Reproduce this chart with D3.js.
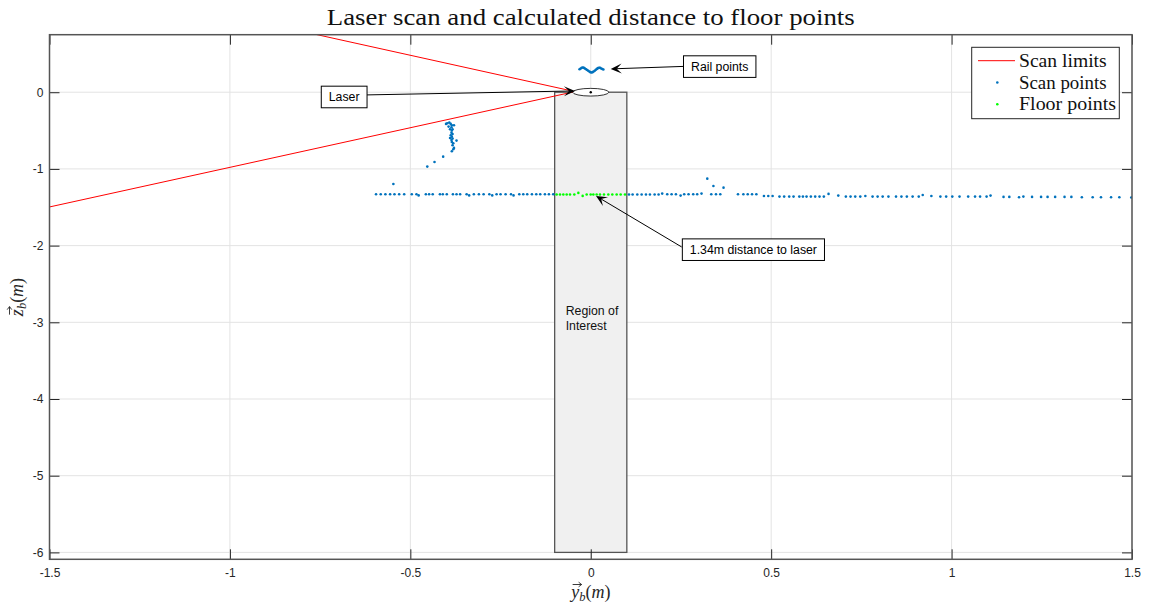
<!DOCTYPE html>
<html>
<head>
<meta charset="utf-8">
<script src="https://cdn.jsdelivr.net/npm/d3@7"></script>
<style>
  html, body { margin: 0; padding: 0; background: #fff; }
  svg { display: block; }
</style>
</head>
<body>
<svg id="chart" width="1150" height="608"></svg>
<script>
// ---- data -------------------------------------------------------------
const xTicks = [-1.5, -1, -0.5, 0, 0.5, 1, 1.5];
const xTickLabels = ["-1.5", "-1", "-0.5", "0", "0.5", "1", "1.5"];
const yTicks = [-6, -5, -4, -3, -2, -1, 0];
const yTickLabels = ["-6", "-5", "-4", "-3", "-2", "-1", "0"];

// scan limit rays from the laser origin
const scanLimitUpper = [[-0.044, 0.008], [-0.76, 0.752]];
const scanLimitLower = [[-0.044, 0.008], [-1.5, -1.496]];

// laser scan points (y_b, z_b)
const railPoints = [
  [-0.031, 0.300], [-0.028, 0.310], [-0.025, 0.318], [-0.022, 0.322], [-0.019, 0.318],
  [-0.016, 0.310], [-0.013, 0.300], [-0.010, 0.290], [-0.007, 0.280], [-0.004, 0.270],
  [-0.001, 0.262], [0.002, 0.258], [0.005, 0.262], [0.008, 0.270], [0.011, 0.280],
  [0.014, 0.292], [0.017, 0.304], [0.020, 0.314], [0.023, 0.320], [0.026, 0.318],
  [0.029, 0.310], [0.032, 0.302], [0.035, 0.296]
];
const wallPoints = [
  [-0.3975, -0.405], [-0.392, -0.396], [-0.388, -0.413], [-0.401, -0.413], [-0.385, -0.431],
  [-0.379, -0.431], [-0.394, -0.448], [-0.386, -0.457], [-0.390, -0.483], [-0.383, -0.483],
  [-0.385, -0.500], [-0.386, -0.527], [-0.383, -0.544], [-0.388, -0.561], [-0.385, -0.579],
  [-0.390, -0.596], [-0.383, -0.605], [-0.386, -0.622], [-0.385, -0.648], [-0.381, -0.666],
  [-0.383, -0.692], [-0.372, -0.631], [-0.379, -0.726], [-0.381, -0.744], [-0.385, -0.770],
  [-0.409, -0.840], [-0.433, -0.909], [-0.453, -0.970],
  [-0.547, -1.196], [0.323, -1.127], [0.340, -1.222], [0.368, -1.244]
];
const groundLeft = [
  [-0.595, -1.331], [-0.582, -1.331], [-0.569, -1.331], [-0.556, -1.331], [-0.544, -1.331],
  [-0.531, -1.331], [-0.517, -1.331], [-0.496, -1.331], [-0.483, -1.331], [-0.477, -1.345],
  [-0.457, -1.331], [-0.448, -1.331], [-0.438, -1.331], [-0.418, -1.331], [-0.410, -1.331],
  [-0.399, -1.331], [-0.382, -1.331], [-0.372, -1.331], [-0.362, -1.331], [-0.344, -1.331],
  [-0.337, -1.345], [-0.324, -1.331], [-0.310, -1.331], [-0.297, -1.331], [-0.281, -1.331],
  [-0.273, -1.345], [-0.261, -1.331], [-0.250, -1.331], [-0.236, -1.331], [-0.221, -1.331],
  [-0.214, -1.345], [-0.198, -1.331], [-0.187, -1.331], [-0.176, -1.331], [-0.163, -1.331],
  [-0.151, -1.331], [-0.140, -1.331], [-0.127, -1.331], [-0.116, -1.331], [-0.104, -1.331]
];
const groundRight = [
  [0.106, -1.333], [0.116, -1.333], [0.129, -1.333], [0.141, -1.333], [0.153, -1.333],
  [0.164, -1.333], [0.177, -1.333], [0.188, -1.333], [0.198, -1.322], [0.212, -1.331],
  [0.224, -1.331], [0.236, -1.331], [0.249, -1.348], [0.259, -1.331], [0.271, -1.331],
  [0.284, -1.331], [0.295, -1.331], [0.307, -1.322], [0.334, -1.331], [0.347, -1.331],
  [0.359, -1.331], [0.408, -1.331], [0.423, -1.331], [0.435, -1.331], [0.447, -1.331],
  [0.459, -1.331], [0.480, -1.353], [0.492, -1.353], [0.504, -1.353], [0.523, -1.361],
  [0.536, -1.361], [0.550, -1.361], [0.562, -1.361], [0.578, -1.361], [0.588, -1.361],
  [0.598, -1.361], [0.610, -1.361], [0.622, -1.361], [0.634, -1.361], [0.646, -1.361],
  [0.659, -1.326], [0.686, -1.348], [0.707, -1.361], [0.720, -1.361], [0.733, -1.361],
  [0.747, -1.361], [0.761, -1.353], [0.781, -1.361], [0.795, -1.361], [0.809, -1.361],
  [0.825, -1.361], [0.846, -1.361], [0.861, -1.361], [0.876, -1.361], [0.892, -1.361],
  [0.909, -1.361], [0.920, -1.340], [0.944, -1.353], [0.969, -1.361], [0.985, -1.361],
  [1.002, -1.361], [1.022, -1.361], [1.046, -1.361], [1.065, -1.361], [1.079, -1.361],
  [1.097, -1.361], [1.108, -1.348], [1.144, -1.365], [1.160, -1.365], [1.187, -1.370],
  [1.199, -1.361], [1.223, -1.365], [1.248, -1.365], [1.266, -1.365], [1.287, -1.365],
  [1.313, -1.365], [1.332, -1.365], [1.361, -1.370], [1.391, -1.370], [1.414, -1.370],
  [1.442, -1.370], [1.465, -1.370], [1.498, -1.372]
];
// points inside the region of interest, classified as floor
const floorPoints = [
  [-0.0945, -1.333], [-0.0852, -1.333], [-0.0760, -1.333], [-0.0667, -1.333], [-0.0575, -1.333],
  [-0.0455, -1.333], [-0.0344, -1.313], [-0.0224, -1.352], [-0.0113, -1.333], [-0.0002, -1.333],
  [0.0072, -1.333], [0.0164, -1.333], [0.0256, -1.333], [0.0367, -1.333], [0.0487, -1.333],
  [0.0598, -1.333], [0.0718, -1.333], [0.0829, -1.333], [0.0949, -1.333]
];

// region of interest and laser marker
const roiBounds = { x0: -0.1, x1: 0.1, y0: -6, y1: 0 };
const laserCenter = [0, 0];
const laserRadius = 0.05;

const legendLabels = ["Scan limits", "Scan points", "Floor points"];
const annotationLabels = ["Laser", "Rail points", "1.34m distance to laser"];
const roiLabel = ["Region of", "Interest"];
const titleText = "Laser scan and calculated distance to floor points";

// ---- layout -----------------------------------------------------------
const plot = { left: 49.5, right: 1132, top: 34.7, bottom: 559.3 };
const BLUE = "#0072BD", GREEN = "#00FF00", RED = "#FF0000";

const x = d3.scaleLinear().domain([-1.5, 1.5]).range([plot.left, plot.right]);
const y = d3.scaleLinear().domain([-6.09, 0.75]).range([plot.bottom, plot.top]);

const svg = d3.select("#chart");
const SANS = "'Liberation Sans', Arial, Helvetica, sans-serif";
const SERIF = "'Liberation Serif', 'DejaVu Serif', serif";

svg.append("defs").append("clipPath").attr("id", "clip")
  .append("rect")
  .attr("x", plot.left).attr("y", plot.top)
  .attr("width", plot.right - plot.left).attr("height", plot.bottom - plot.top);

// grid
const grid = svg.append("g").attr("class", "grid");
grid.selectAll("line.gx").data(xTicks).join("line")
  .attr("x1", d => x(d)).attr("x2", d => x(d))
  .attr("y1", plot.top).attr("y2", plot.bottom)
  .attr("stroke", "#e3e3e3").attr("stroke-width", 1);
grid.selectAll("line.gy").data(yTicks).join("line")
  .attr("y1", d => y(d)).attr("y2", d => y(d))
  .attr("x1", plot.left).attr("x2", plot.right)
  .attr("stroke", "#e3e3e3").attr("stroke-width", 1);

const inner = svg.append("g").attr("clip-path", "url(#clip)");

// region of interest rectangle
inner.append("rect")
  .attr("x", x(roiBounds.x0)).attr("y", y(roiBounds.y1))
  .attr("width", x(roiBounds.x1) - x(roiBounds.x0))
  .attr("height", y(roiBounds.y0) - y(roiBounds.y1))
  .attr("fill", "#f0f0f0").attr("stroke", "#555").attr("stroke-width", 1.3);

inner.append("text")
  .attr("x", x(roiBounds.x0) + 11).attr("y", y(-2.9))
  .attr("font-family", SANS).attr("font-size", 12.3).attr("fill", "#111")
  .selectAll("tspan").data(roiLabel).join("tspan")
  .attr("x", x(roiBounds.x0) + 11).attr("dy", (d, i) => i === 0 ? 0 : 15.5)
  .text(d => d);

// scan limit rays
const line = d3.line().x(d => x(d[0])).y(d => y(d[1]));
[scanLimitUpper, scanLimitLower].forEach(seg => {
  inner.append("path").attr("d", line(seg))
    .attr("fill", "none").attr("stroke", RED).attr("stroke-width", 1);
});

// scan points
const scanPoints = railPoints.concat(wallPoints, groundLeft, groundRight);
inner.append("g").selectAll("circle").data(scanPoints).join("circle")
  .attr("cx", d => x(d[0])).attr("cy", d => y(d[1])).attr("r", 1.3)
  .attr("fill", BLUE);
inner.append("g").selectAll("circle").data(floorPoints).join("circle")
  .attr("cx", d => x(d[0])).attr("cy", d => y(d[1])).attr("r", 1.3)
  .attr("fill", GREEN);

// laser marker
inner.append("ellipse")
  .attr("cx", x(laserCenter[0])).attr("cy", y(laserCenter[1]))
  .attr("rx", x(laserRadius) - x(0)).attr("ry", y(0) - y(laserRadius))
  .attr("fill", "#fff").attr("stroke", "#000").attr("stroke-width", 0.8);
inner.append("circle")
  .attr("cx", x(laserCenter[0])).attr("cy", y(laserCenter[1])).attr("r", 1.2)
  .attr("fill", "#000");

// axes (inward ticks on all four sides)
const tick = 10;
const axB = d3.axisBottom(x).tickValues(xTicks).tickFormat((d, i) => xTickLabels[i])
  .tickSizeInner(-tick).tickSizeOuter(0).tickPadding(9);
const axL = d3.axisLeft(y).tickValues(yTicks).tickFormat((d, i) => yTickLabels[i])
  .tickSizeInner(-tick).tickSizeOuter(0).tickPadding(6);
const axT = d3.axisTop(x).tickValues(xTicks).tickFormat("").tickSizeInner(-tick).tickSizeOuter(0);
const axR = d3.axisRight(y).tickValues(yTicks).tickFormat("").tickSizeInner(-tick).tickSizeOuter(0);

function styleAxis(g) {
  g.select(".domain").remove();
  g.selectAll(".tick line").attr("stroke", "#262626").attr("stroke-width", 1);
  g.selectAll(".tick text").attr("font-family", SANS).attr("font-size", 12).attr("fill", "#262626");
}
svg.append("g").attr("transform", `translate(0,${plot.bottom})`).call(axB).call(styleAxis);
svg.append("g").attr("transform", `translate(${plot.left},0)`).call(axL).call(styleAxis);
svg.append("g").attr("transform", `translate(0,${plot.top})`).call(axT).call(styleAxis);
svg.append("g").attr("transform", `translate(${plot.right},0)`).call(axR).call(styleAxis);

// axes box
svg.append("rect")
  .attr("x", plot.left).attr("y", plot.top)
  .attr("width", plot.right - plot.left).attr("height", plot.bottom - plot.top)
  .attr("fill", "none").attr("stroke", "#555").attr("stroke-width", 1.5);

// title
svg.append("text")
  .attr("x", (plot.left + plot.right) / 2).attr("y", 25)
  .attr("text-anchor", "middle")
  .attr("font-family", SERIF).attr("font-size", 23.5).attr("fill", "#111")
  .attr("textLength", 528).attr("lengthAdjust", "spacingAndGlyphs")
  .text(titleText);

// axis labels: vector symbol (arrow drawn over the letter) with subscript
function vecLabel(g, sym) {
  const t = g.append("text").attr("font-family", SERIF).attr("font-size", 18).attr("fill", "#262626")
    .attr("text-anchor", "middle");
  t.append("tspan").attr("font-style", "italic").text(sym);
  t.append("tspan").attr("font-style", "italic").attr("font-size", 12.5).attr("dy", 3).text("b");
  t.append("tspan").attr("dy", -3).text("(");
  t.append("tspan").attr("font-style", "italic").text("m");
  t.append("tspan").text(")");
  const n = t.node();
  const s = n.getStartPositionOfChar(0), e = n.getEndPositionOfChar(0);
  const ay = s.y - 13.5, ax0 = s.x + 1.5, ax1 = e.x + 2.5;
  g.append("path")
    .attr("d", `M${ax0},${ay}L${ax1},${ay}M${ax1 - 3},${ay - 2.3}L${ax1},${ay}L${ax1 - 3},${ay + 2.3}`)
    .attr("fill", "none").attr("stroke", "#262626").attr("stroke-width", 0.9);
}
vecLabel(svg.append("g").attr("transform", `translate(${(plot.left + plot.right) / 2},598)`), "y");
vecLabel(svg.append("g").attr("transform", `translate(23,${(plot.top + plot.bottom) / 2}) rotate(-90)`), "z");

// annotations: text box + arrow
const annotations = [
  { label: annotationLabels[0], center: [-0.6834, -0.062], tail: [-0.621, -0.035], tip: [-0.0437, 0.017] },
  { label: annotationLabels[1], center: [0.3574, 0.334], tail: [0.2565, 0.3365], tip: [0.0553, 0.304] },
  { label: annotationLabels[2], center: [0.4508, -2.053], tail: [0.2521, -2.018], tip: [0.0146, -1.353] }
];
const annG = svg.append("g");
annotations.forEach(a => {
  const x1 = x(a.tail[0]), y1 = y(a.tail[1]), x2 = x(a.tip[0]), y2 = y(a.tip[1]);
  const ang = Math.atan2(y2 - y1, x2 - x1);
  const L = 11, Wd = 10, notch = 6;
  const ca = Math.cos(ang), sa = Math.sin(ang);
  const pt = (u, v) => [x2 - u * ca - v * sa, y2 - u * sa + v * ca];
  annG.append("line").attr("x1", x1).attr("y1", y1)
    .attr("x2", pt(notch, 0)[0]).attr("y2", pt(notch, 0)[1])
    .attr("stroke", "#000").attr("stroke-width", 1);
  annG.append("path")
    .attr("d", "M" + [[x2, y2], pt(L, Wd / 2), pt(notch, 0), pt(L, -Wd / 2)].map(p => p.join(",")).join("L") + "Z")
    .attr("fill", "#000");
  const tx = annG.append("text")
    .attr("x", x(a.center[0])).attr("y", y(a.center[1]))
    .attr("text-anchor", "middle").attr("dominant-baseline", "central")
    .attr("font-family", SANS).attr("font-size", 12.3).attr("fill", "#000")
    .text(a.label);
  const bb = tx.node().getBBox();
  annG.insert("rect", "text")
    .attr("x", bb.x - 7.5).attr("y", y(a.center[1]) - 10.8)
    .attr("width", bb.width + 15).attr("height", 21.6)
    .attr("fill", "#fff").attr("stroke", "#000").attr("stroke-width", 1);
});

// legend
const lg = svg.append("g");
lg.append("rect").attr("x", 971.7).attr("y", 47.3).attr("width", 147.6).attr("height", 71.4)
  .attr("fill", "#fff").attr("stroke", "#262626").attr("stroke-width", 1);
const legendRows = [60.7, 82.5, 104.3];
lg.append("line").attr("x1", 978).attr("x2", 1015).attr("y1", legendRows[0]).attr("y2", legendRows[0])
  .attr("stroke", RED).attr("stroke-width", 1);
lg.append("circle").attr("cx", 997.3).attr("cy", legendRows[1]).attr("r", 1.3).attr("fill", BLUE);
lg.append("circle").attr("cx", 997.3).attr("cy", legendRows[2]).attr("r", 1.3).attr("fill", GREEN);
const legendWidths = [87.7, 87.5, 97];
lg.selectAll("text").data(legendLabels).join("text")
  .attr("x", 1019).attr("y", (d, i) => legendRows[i] + 6)
  .attr("font-family", SERIF).attr("font-size", 19).attr("fill", "#111")
  .attr("textLength", (d, i) => legendWidths[i]).attr("lengthAdjust", "spacingAndGlyphs")
  .text(d => d);
</script>
</body>
</html>
